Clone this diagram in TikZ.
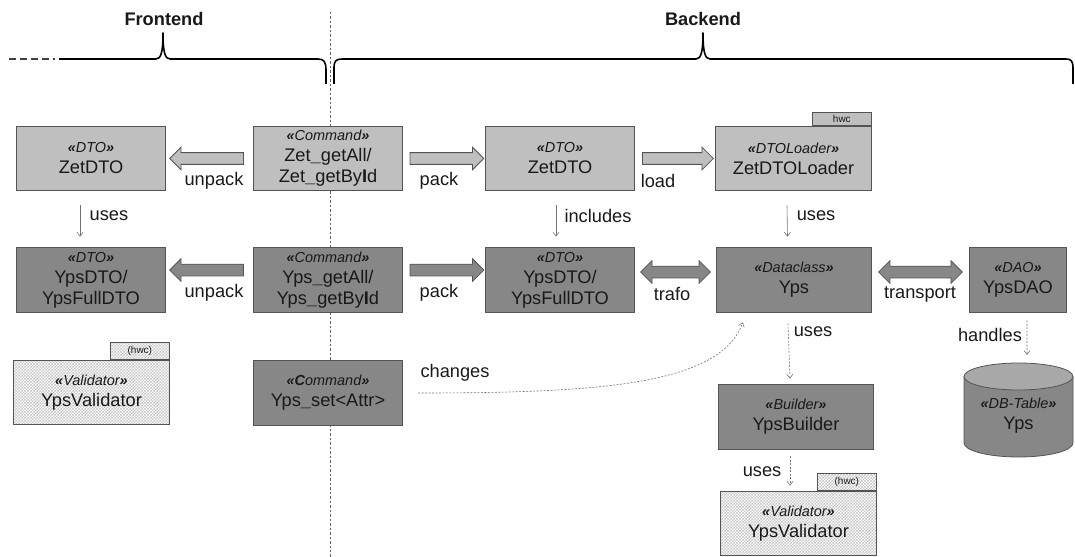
\documentclass[tikz,border=0pt]{standalone}
\usepackage{fontspec}
\setmainfont{Liberation Sans}
\usetikzlibrary{shapes.arrows,patterns,arrows.meta,calc}
\definecolor{lightbox}{gray}{0.75}
\definecolor{darkbox}{gray}{0.53}
\definecolor{boxline}{gray}{0.33}
\definecolor{cylend}{gray}{0.66}
\definecolor{txt}{gray}{0.1}
\pgfdeclarepatternformonly{finecheck}{\pgfpointorigin}{\pgfqpoint{3pt}{3pt}}{\pgfqpoint{3pt}{3pt}}{%
  \pgfpathrectangle{\pgfpointorigin}{\pgfqpoint{1.5pt}{1.5pt}}%
  \pgfpathrectangle{\pgfqpoint{1.5pt}{1.5pt}}{\pgfqpoint{1.5pt}{1.5pt}}%
  \pgfusepath{fill}}
\newcommand{\stereo}[1]{{\fontsize{14.5}{17}\selectfont\itshape\textbf{«}#1\textbf{»}}}
\tikzset{
  box/.style={draw=boxline, line width=0.8pt, minimum width=150, minimum height=65, align=center, text=txt, font=\fontsize{18.3}{21}\selectfont, inner sep=1pt},
  zet/.style={box, fill=lightbox},
  yps/.style={box, fill=darkbox},
  check/.style={box, pattern=finecheck, pattern color=black!22},
  tab/.style={draw=boxline, line width=0.8pt, minimum width=60, minimum height=17, inner sep=0pt, font=\fontsize{10}{11}\selectfont, text=txt},
  blk/.style={single arrow, draw=boxline, line width=0.8pt, single arrow head extend=5.5, inner xsep=0pt, inner ysep=5.5pt, minimum height=#1},
  dblk/.style={double arrow, draw=boxline, line width=0.8pt, double arrow head extend=5.5, inner xsep=0pt, inner ysep=5.5pt, minimum height=#1},
  lbl/.style={font=\fontsize{18.3}{20}\selectfont, text=txt, inner sep=1pt},
  uses/.style={draw=black!55, line width=0.6pt, -{Straight Barb[length=4pt,width=6pt]}},
  usesd/.style={uses, dash pattern=on 2pt off 1.5pt},
  brace/.style={line width=1.6pt, line join=round}
}
\begin{document}
\begin{tikzpicture}[x=1bp, y=-1bp]
\useasboundingbox (0,0) rectangle (1075,557);
\draw[black!60, line width=0.6pt, dash pattern=on 2.5pt off 2pt] (330,12) -- (330,557);
\draw[brace, black!75, dash pattern=on 7pt off 4pt] (9,59) -- (55,59);
\draw[brace] (59,59) -- (156,59) .. controls (161,59) and (163,52) .. (163,33) .. controls (163,52) and (165,59) .. (170,59) -- (318,59) .. controls (324,59) and (326,62) .. (326,70) -- (326,84);
\draw[brace] (334,84) -- (334,68) .. controls (334,61) and (336,59) .. (342,59) -- (696,59) .. controls (701,59) and (703,52) .. (703,33) .. controls (703,52) and (705,59) .. (710,59) -- (1066,59) .. controls (1071,59) and (1073,61) .. (1073,68) -- (1073,84);
\node[lbl, font=\bfseries\fontsize{18.3}{20}\selectfont] (fe) at (164,19) {Frontend};
\node[lbl, font=\bfseries\fontsize{18.3}{20}\selectfont] (be) at (703,19) {Backend};

\node[zet] (fz) at (91,158.5) {\stereo{DTO}\\ZetDTO};
\node[zet] (cz) at (328,158.5) {\stereo{Command}\\Zet\textbf{\_}getAll/\\Zet\textbf{\_}getBy\textbf{I}d};
\node[zet] (bz) at (560,158.5) {\stereo{DTO}\\ZetDTO};
\node[zet, minimum width=157] (lz) at (793.5,158.5) {\stereo{DTOLoader}\\ZetDTOLoader};
\node[tab, fill=lightbox, minimum height=13, anchor=south east] (lzt) at (lz.north east) {hwc};

\node[yps, minimum height=66] (fy) at (91,280) {\stereo{DTO}\\YpsDTO/\\YpsFullDTO};
\node[yps, minimum height=66] (cy) at (328,280) {\stereo{Command}\\Yps\textbf{\_}getAll/\\Yps\textbf{\_}getBy\textbf{I}d};
\node[yps, minimum height=66] (by) at (560,280) {\stereo{DTO}\\YpsDTO/\\YpsFullDTO};
\node[yps, minimum width=156, minimum height=66] (ycl) at (794,280) {\stereo{Dataclass}\\Yps};
\node[yps, minimum width=98, minimum height=66] (dao) at (1018,280) {\stereo{DAO}\\YpsDAO};

\node[check, minimum width=157] (fv) at (91.5,392.5) {\stereo{Validator}\\YpsValidator};
\node[tab, pattern=finecheck, pattern color=black!22, anchor=south east] (fvt) at (fv.north east) {(hwc)};
\node[yps, minimum height=66] (cs) at (328,393) {{\fontsize{14.5}{17}\selectfont\itshape\textbf{«C}ommand\textbf{»}}\\Yps\textbf{\_}set<Attr>};
\node[yps, minimum width=156, minimum height=66] (bld) at (796,417) {\stereo{Builder}\\YpsBuilder};
\node[check, minimum width=157] (bv) at (798.5,523.5) {\stereo{Validator}\\YpsValidator};
\node[tab, pattern=finecheck, pattern color=black!22, anchor=south east] (bvt) at (bv.north east) {(hwc)};

\coordinate (dbtop) at (1018.5,363);
\draw[draw=boxline, fill=darkbox, line width=0.8pt] (964,376.5) -- (964,443) arc[start angle=180, end angle=0, x radius=54.5, y radius=14] -- (1073,376.5);
\draw[draw=boxline, fill=cylend, line width=0.8pt] (1018.5,376.5) ellipse[x radius=54.5, y radius=13.5];
\node[align=center, text=txt, font=\fontsize{18.3}{21}\selectfont] (db) at (1018.5,416) {\stereo{DB-Table}\\Yps};

\node[blk=74, fill=lightbox, shape border rotate=180] (uz) at ($(fz.east)!0.5!(cz.west)$) {};
\node[blk=74, fill=lightbox] (pz) at ($(cz.east)!0.5!(bz.west)$) {};
\node[blk=71, fill=lightbox] (ld) at ($(bz.east)!0.5!(lz.west)$) {};
\node[blk=74, fill=darkbox, shape border rotate=180, yshift=10pt] (uy) at ($(fy.east)!0.5!(cy.west)$) {};
\node[blk=74, fill=darkbox, yshift=10pt] (py) at ($(cy.east)!0.5!(by.west)$) {};
\node[dblk=70, fill=darkbox, yshift=8pt] (tr) at ($(by.east)!0.5!(ycl.west)$) {};
\node[dblk=84, fill=darkbox, yshift=8pt] (tp) at ($(ycl.east)!0.5!(dao.west)$) {};

\node[lbl] (luz) at (214,181) {unpack};
\node[lbl] (lpz) at (439,181) {pack};
\node[lbl] (lld) at (658,181) {load};
\node[lbl] (luy) at (214,293) {unpack};
\node[lbl] (lpy) at (439,293) {pack};
\node[lbl] (ltr) at (672,294) {trafo};
\node[lbl] (ltp) at (920,294) {transport};

\draw[uses] ([shift={(-11,14)}]fz.south) -- ([shift={(-11,-10)}]fy.north);
\node[lbl] (lu1) at (109,216) {uses};
\draw[uses] ([shift={(-4,14)}]bz.south) -- ([shift={(-4,-10)}]by.north);
\node[lbl] (lin) at (598,216) {includes};
\draw[uses] ([shift={(-6.5,14)}]lz.south) -- ([shift={(-6.5,-10)}]ycl.north);
\node[lbl] (lu2) at (816,216) {uses};
\draw[usesd] ([shift={(-6,10)}]ycl.south) -- ([shift={(-6,-5)}]bld.north);
\node[lbl] (lu3) at (813,332) {uses};
\draw[usesd] ([shift={(-6,6)}]bld.south) -- ([shift={(-8.5,-5)}]bv.north);
\node[lbl] (lu4) at (762,472) {uses};
\draw[usesd] ([shift={(9,7)}]dao.south) -- ([shift={(8.5,-8)}]dbtop);
\node[lbl] (lhd) at (990,335) {handles};
\draw[usesd] ([xshift=15]cs.east) .. controls (600,393) and (720,385) .. ([shift={(27,9)}]ycl.south west);
\node[lbl] (lch) at (455,373) {changes};
\end{tikzpicture}
\end{document}
